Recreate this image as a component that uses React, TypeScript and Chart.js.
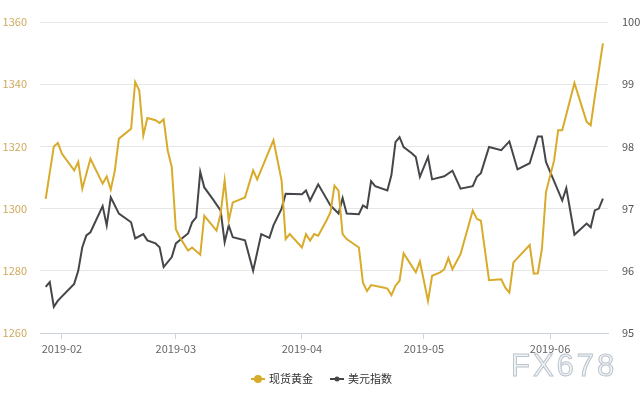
import React, { useEffect, useRef } from "react";
import { Chart, registerables } from "chart.js";

Chart.register(...registerables);

const goldDates = [
  "2019-01-28","2019-01-30","2019-01-31","2019-02-01","2019-02-04","2019-02-05","2019-02-06","2019-02-08",
  "2019-02-11","2019-02-12","2019-02-13","2019-02-14","2019-02-15","2019-02-18","2019-02-19","2019-02-20",
  "2019-02-21","2019-02-22","2019-02-24","2019-02-25","2019-02-26","2019-02-27","2019-02-28","2019-03-01",
  "2019-03-02","2019-03-04","2019-03-05","2019-03-07","2019-03-08","2019-03-11","2019-03-12","2019-03-13",
  "2019-03-14","2019-03-15","2019-03-18","2019-03-20","2019-03-21","2019-03-25","2019-03-27","2019-03-28",
  "2019-03-29","2019-04-01","2019-04-02","2019-04-03","2019-04-04","2019-04-05","2019-04-07","2019-04-08",
  "2019-04-09","2019-04-10","2019-04-11","2019-04-12","2019-04-15","2019-04-16","2019-04-17","2019-04-18",
  "2019-04-21","2019-04-22","2019-04-23","2019-04-24","2019-04-25","2019-04-26","2019-04-29","2019-04-30",
  "2019-05-02","2019-05-03","2019-05-05","2019-05-06","2019-05-07","2019-05-08","2019-05-10","2019-05-13",
  "2019-05-14","2019-05-15","2019-05-17","2019-05-20","2019-05-21","2019-05-22","2019-05-23","2019-05-27",
  "2019-05-28","2019-05-29","2019-05-30","2019-05-31","2019-06-02","2019-06-03","2019-06-04","2019-06-07",
  "2019-06-10","2019-06-11","2019-06-12","2019-06-14",
];
const goldValues = [
  1303.1,1320.0,1321.1,1317.6,1312.3,1315.0,1306.4,1316.0,
  1308.0,1310.3,1306.1,1312.3,1322.5,1325.7,1340.7,1338.0,
  1323.5,1329.1,1328.4,1327.5,1328.7,1318.7,1313.3,1293.4,
  1290.7,1286.5,1287.5,1285.2,1297.7,1292.9,1298.3,1309.0,
  1296.1,1302.0,1303.6,1312.3,1309.4,1322.0,1309.0,1290.2,
  1291.8,1287.5,1291.8,1289.7,1291.8,1291.3,1296.1,1298.8,
  1307.4,1305.8,1291.8,1290.2,1287.5,1276.2,1273.5,1275.4,
  1274.6,1274.3,1272.2,1275.2,1276.8,1285.6,1279.5,1283.0,
  1270.3,1278.4,1279.5,1280.5,1284.1,1280.5,1285.4,1299.4,
  1296.7,1296.1,1277.0,1277.3,1274.6,1273.0,1282.7,1288.3,
  1279.1,1279.2,1287.0,1305.3,1315.5,1325.2,1325.2,1340.4,
  1327.9,1326.8,1335.9,1353.1,
];

const dxyDates = [
  "2019-01-28","2019-01-29","2019-01-30","2019-01-31","2019-02-04","2019-02-05","2019-02-06","2019-02-07",
  "2019-02-08","2019-02-11","2019-02-12","2019-02-13","2019-02-15","2019-02-18","2019-02-19","2019-02-21",
  "2019-02-22","2019-02-24","2019-02-25","2019-02-26","2019-02-28","2019-03-01","2019-03-04","2019-03-05",
  "2019-03-06","2019-03-07","2019-03-08","2019-03-10","2019-03-12","2019-03-13","2019-03-14","2019-03-15",
  "2019-03-18","2019-03-20","2019-03-22","2019-03-24","2019-03-25","2019-03-27","2019-03-28","2019-04-01",
  "2019-04-02","2019-04-03","2019-04-05","2019-04-08","2019-04-10","2019-04-11","2019-04-12","2019-04-15",
  "2019-04-16","2019-04-17","2019-04-18","2019-04-19","2019-04-22","2019-04-23","2019-04-24","2019-04-25",
  "2019-04-26","2019-04-28","2019-04-29","2019-04-30","2019-05-02","2019-05-03","2019-05-06","2019-05-08",
  "2019-05-10","2019-05-13","2019-05-14","2019-05-15","2019-05-17","2019-05-20","2019-05-22","2019-05-24",
  "2019-05-27","2019-05-29","2019-05-30","2019-05-31","2019-06-04","2019-06-05","2019-06-07","2019-06-10",
  "2019-06-11","2019-06-12","2019-06-13","2019-06-14",
];
const dxyValues = [
  95.74,95.82,95.42,95.52,95.79,96.00,96.38,96.57,
  96.62,97.04,96.73,97.18,96.92,96.78,96.52,96.59,
  96.49,96.44,96.38,96.06,96.22,96.44,96.60,96.78,
  96.86,97.59,97.34,97.16,96.97,96.46,96.73,96.54,
  96.49,96.00,96.59,96.53,96.73,97.00,97.24,97.23,
  97.29,97.13,97.39,97.05,96.92,97.17,96.92,96.91,
  97.05,97.01,97.44,97.36,97.29,97.54,98.07,98.15,
  97.99,97.89,97.83,97.51,97.83,97.47,97.52,97.61,
  97.32,97.36,97.51,97.57,97.99,97.94,98.08,97.63,
  97.73,98.16,98.16,97.75,97.13,97.33,96.58,96.76,
  96.70,96.97,97.00,97.16,
];

const monthTickDates = ["2019-02-01", "2019-03-01", "2019-04-01", "2019-05-01", "2019-06-01"];
const monthTickLabels = ["2019-02", "2019-03", "2019-04", "2019-05", "2019-06"];
const legendLabels = ["现货黄金", "美元指数"];
const watermark = "FX678";

const GOLD = "#d9ab2b";
const DARK = "#45464a";
const FONT = "'Noto Sans CJK SC', 'Open Sans', sans-serif";

const BASE = Date.UTC(2019, 1, 1);
const toDay = (s: string) => {
  const [y, m, d] = s.split("-").map(Number);
  return (Date.UTC(y, m - 1, d) - BASE) / 864e5;
};

const legendPlugin = {
  id: "customLegend",
  afterDraw(chart: any) {
    const ctx = chart.ctx as CanvasRenderingContext2D;
    ctx.save();
    const y = 379;
    ctx.strokeStyle = GOLD;
    ctx.lineWidth = 2;
    ctx.beginPath();
    ctx.moveTo(251, y);
    ctx.lineTo(265, y);
    ctx.stroke();
    ctx.fillStyle = GOLD;
    ctx.beginPath();
    ctx.arc(258, y, 4, 0, Math.PI * 2);
    ctx.fill();
    ctx.strokeStyle = DARK;
    ctx.beginPath();
    ctx.moveTo(330, y);
    ctx.lineTo(344, y);
    ctx.stroke();
    ctx.fillStyle = DARK;
    ctx.beginPath();
    ctx.arc(337, y, 2.5, 0, Math.PI * 2);
    ctx.fill();
    ctx.fillStyle = "#333";
    ctx.font = `11px ${FONT}`;
    ctx.textBaseline = "middle";
    ctx.textAlign = "left";
    ctx.fillText(legendLabels[0], 269, y);
    ctx.fillText(legendLabels[1], 348, y);
    ctx.font = `31px 'Liberation Sans', Arial, sans-serif`;
    (ctx as any).letterSpacing = "3px";
    ctx.textBaseline = "alphabetic";
    ctx.fillStyle = "#f1f4f7";
    ctx.strokeStyle = "#bcc4cd";
    ctx.lineWidth = 1;
    ctx.fillText(watermark, 511, 376);
    ctx.strokeText(watermark, 511, 376);
    ctx.restore();
  },
};

export default function App() {
  const ref = useRef<HTMLCanvasElement | null>(null);
  useEffect(() => {
    document.body.style.margin = "0";
    const goldPts = goldDates.map((d, i) => ({ x: toDay(d), y: goldValues[i] }));
    const dxyPts = dxyDates.map((d, i) => ({ x: toDay(d), y: dxyValues[i] }));
    const tickDays = monthTickDates.map(toDay);
    const chart = new Chart(ref.current!, {
      type: "line",
      data: {
        datasets: [
          {
            label: legendLabels[0],
            data: goldPts,
            borderColor: GOLD,
            backgroundColor: GOLD,
            borderWidth: 2,
            pointRadius: 0,
            tension: 0,
            yAxisID: "y",
          },
          {
            label: legendLabels[1],
            data: dxyPts,
            borderColor: DARK,
            backgroundColor: DARK,
            borderWidth: 2,
            pointRadius: 0,
            tension: 0,
            yAxisID: "y1",
          },
        ],
      },
      options: {
        animation: false,
        responsive: true,
        maintainAspectRatio: false,
        layout: { padding: { top: 22, bottom: 34, left: 0, right: 0 } },
        plugins: { legend: { display: false }, tooltip: { enabled: false } },
        scales: {
          x: {
            type: "linear",
            min: -5.4,
            max: 134.25,
            afterBuildTicks: (scale: any) => {
              scale.ticks = tickDays.map((v) => ({ value: v }));
            },
            afterFit: (scale: any) => {
              scale.height = 33;
            },
            ticks: {
              autoSkip: false,
              maxRotation: 0,
              padding: 3,
              color: "#666",
              font: { size: 11, family: FONT },
              callback: (v: any) => {
                const i = tickDays.indexOf(Number(v));
                return i >= 0 ? monthTickLabels[i] : "";
              },
            },
            grid: { drawOnChartArea: false, drawTicks: true, tickLength: 6, color: "#ccd3dc" },
            border: { color: "#ccd3dc" },
          },
          y: {
            position: "left",
            min: 1260,
            max: 1360,
            afterFit: (scale: any) => {
              scale.width = 40;
            },
            ticks: {
              stepSize: 20,
              padding: 13,
              color: "#cfa95c",
              font: { size: 11, family: FONT },
              callback: (v: any) => String(v),
            },
            grid: { color: "#e6e6e6", drawTicks: false },
            border: { display: false },
          },
          y1: {
            position: "right",
            min: 95,
            max: 100,
            afterFit: (scale: any) => {
              scale.width = 32;
            },
            ticks: {
              stepSize: 1,
              padding: 14,
              color: "#555",
              font: { size: 11, family: FONT },
              callback: (v: any) => String(v),
            },
            grid: { drawOnChartArea: false, drawTicks: false },
            border: { display: false },
          },
        },
      },
      plugins: [legendPlugin],
    } as any);
    return () => chart.destroy();
  }, []);
  return (
    <div style={{ width: 640, height: 400, position: "relative" }}>
      <canvas ref={ref} />
    </div>
  );
}
